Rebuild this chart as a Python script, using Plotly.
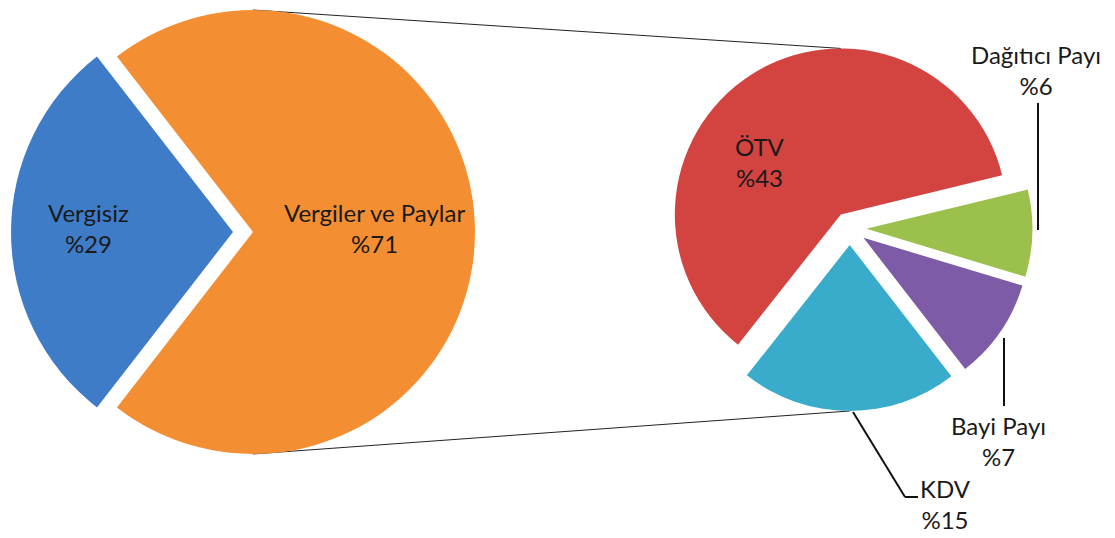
import math
import plotly.graph_objects as go

# ---------------- data ----------------
main_labels = ["Vergisiz", "Vergiler ve Paylar"]
main_values = [29, 71]
sub_labels = ["ÖTV", "Dağıtıcı Payı", "Bayi Payı", "KDV"]
sub_values = [43, 6, 7, 15]

main_colors = ["#3f7cc8", "#f48e32"]
sub_colors = ["#d34441", "#9bc04c", "#7e5ba7", "#38acca"]

W, H = 1115, 538
FONT = "Lato"
FS = 24
TXT = "#1a1a1a"

# ---------------- geometry (pixels) ----------------
L_cx, L_cy, L_r, L_pull = 243.0, 232.0, 222.0, 0.045
R_cx, R_cy, R_r, R_pull = 849.8, 228.4, 166.0, 0.10


def px(x):
    return x / W


def py(y):
    return 1 - y / H


def domain(cx, cy, r, pull):
    half = r * (1 + pull)
    return dict(x=[max(0, px(cx - half)), min(1, px(cx + half))],
                y=[max(0, py(cy + half)), min(1, py(cy - half))])


# rotation: first slice centred at given plotly angle (clockwise from 12 o'clock)
main_total = sum(main_values)
sub_total = sum(sub_values)
main_rot = 270 - 360 * main_values[0] / main_total / 2
sub_rot = -32.7 - 360 * sub_values[0] / sub_total / 2


def slice_mid(values, idx, rot):
    tot = sum(values)
    start = rot + 360 * sum(values[:idx]) / tot
    return start + 360 * values[idx] / tot / 2


def exploded_center(cx, cy, r, pull, ang):
    a = math.radians(ang)
    return cx + math.sin(a) * pull * r, cy - math.cos(a) * pull * r


fig = go.Figure()
fig.add_trace(go.Pie(
    labels=main_labels, values=main_values, sort=False, direction="clockwise",
    rotation=main_rot, pull=[L_pull] * len(main_values),
    marker=dict(colors=main_colors, line=dict(width=0)),
    textinfo="none", hoverinfo="label+value", showlegend=False,
    domain=domain(L_cx, L_cy, L_r, L_pull),
))
fig.add_trace(go.Pie(
    labels=sub_labels, values=sub_values, sort=False, direction="clockwise",
    rotation=sub_rot, pull=[R_pull] * len(sub_values),
    marker=dict(colors=sub_colors, line=dict(width=0)),
    textinfo="none", hoverinfo="label+value", showlegend=False,
    domain=domain(R_cx, R_cy, R_r, R_pull),
))

# connector lines between the two pies
oc = exploded_center(L_cx, L_cy, L_r, L_pull, slice_mid(main_values, 1, main_rot))
rc = exploded_center(R_cx, R_cy, R_r, R_pull, slice_mid(sub_values, 0, sub_rot))
kc = exploded_center(R_cx, R_cy, R_r, R_pull, slice_mid(sub_values, 3, sub_rot))
shapes = [
    dict(type="line", xref="paper", yref="paper", layer="below",
         x0=px(oc[0]), y0=py(oc[1] - L_r), x1=px(rc[0]), y1=py(rc[1] - R_r),
         line=dict(color="#222222", width=1)),
    dict(type="line", xref="paper", yref="paper", layer="below",
         x0=px(oc[0]), y0=py(oc[1] + L_r), x1=px(kc[0]), y1=py(kc[1] + R_r),
         line=dict(color="#222222", width=1)),
]

# leader lines for outside labels
leaders = [
    [(1038, 103), (1038, 230)],
    [(1004, 338), (1004, 406)],
    [(853, 412), (905, 497), (918, 497)],
]
for pts in leaders:
    for (x0, y0), (x1, y1) in zip(pts[:-1], pts[1:]):
        shapes.append(dict(type="line", xref="paper", yref="paper",
                           x0=px(x0), y0=py(y0), x1=px(x1), y1=py(y1),
                           line=dict(color="#111111", width=2)))

# labels
label_pos = {
    "Vergisiz": (88, 228),
    "Vergiler ve Paylar": (374, 228),
    "ÖTV": (760, 162),
    "Dağıtıcı Payı": (1036, 70),
    "Bayi Payı": (998, 441),
    "KDV": (945, 504),
}
annotations = []
for lab, val in list(zip(main_labels, main_values)) + list(zip(sub_labels, sub_values)):
    x, y = label_pos[lab]
    annotations.append(dict(
        xref="paper", yref="paper", x=px(x), y=py(y), xanchor="center", yanchor="middle",
        text=f"{lab}<br>%{val}", showarrow=False, align="center",
        font=dict(family=FONT, size=FS, color=TXT),
    ))

fig.update_layout(
    width=W, height=H, margin=dict(l=0, r=0, t=0, b=0),
    paper_bgcolor="white", plot_bgcolor="white",
    shapes=shapes, annotations=annotations,
    font=dict(family=FONT, size=FS, color=TXT),
)

fig.write_html("out.html", config={"displayModeBar": False},
               post_script="document.body.style.margin='0';")
